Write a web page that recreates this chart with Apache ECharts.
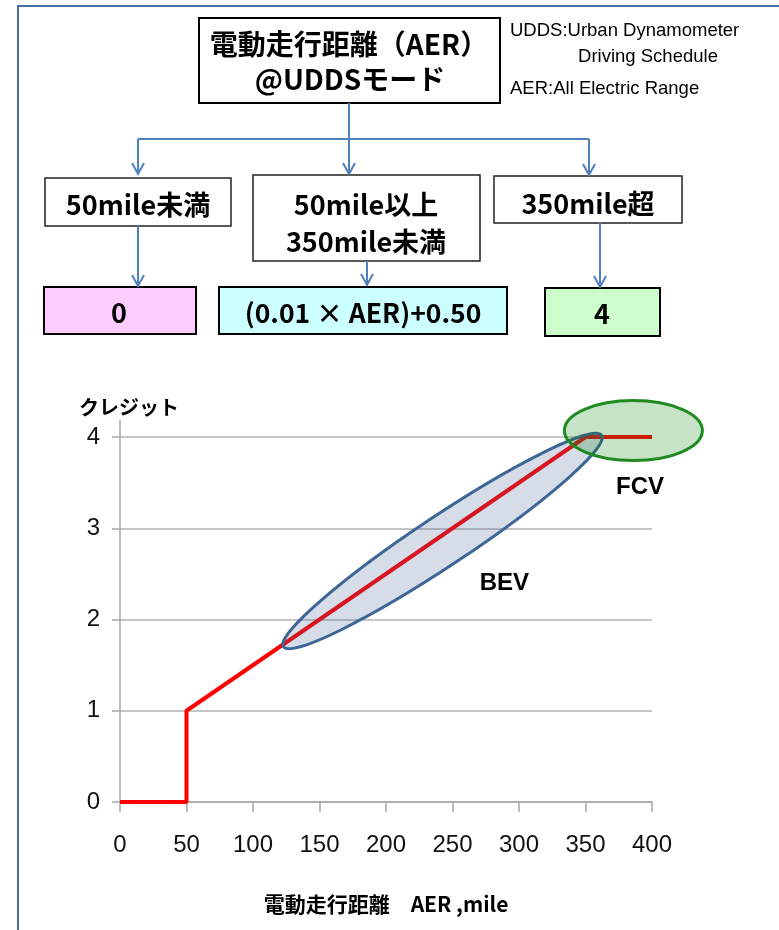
<!DOCTYPE html>
<html><head><meta charset="utf-8">
<script src="https://cdn.jsdelivr.net/npm/echarts@6/dist/echarts.min.js"></script>
<style>html,body{margin:0;padding:0;background:#fff}#c{width:779px;height:930px}</style>
</head><body><div id="c"></div>
<script>
// ---- data ----
const xTicks = [0, 50, 100, 150, 200, 250, 300, 350, 400];
const yTicks = [0, 1, 2, 3, 4];
const aer = [0, 50, 50, 350, 400];
const credit = [0, 0, 1, 4, 4];
const groupNames = ['BEV', 'FCV'];
const groupCenters = [[242.5, 2.86], [386, 4.07]];
const groupLabelPos = [[289, 2.4], [391, 3.45]];

const JP = '"Noto Sans CJK JP", sans-serif';
const LAT = '"Liberation Sans", sans-serif';
const BLUE = '#4f81bd';
const chart = echarts.init(document.getElementById('c'), null, { renderer: 'canvas' });

function rect(x, y, w, h, fill, stroke, lw) {
  return { type: 'rect', shape: { x: x, y: y, width: w, height: h }, style: { fill: fill, stroke: stroke, lineWidth: lw }, z: 10 };
}
function txt(x, y, t, size, weight, family, align) {
  return { type: 'text', x: x, y: y, z: 60, style: { text: t, fontSize: size, fontWeight: weight || 'bold', fontFamily: family || JP, fill: '#000', align: align || 'center', verticalAlign: 'middle' } };
}
function pline(pts, w) {
  return { type: 'polyline', shape: { points: pts }, style: { stroke: BLUE, lineWidth: w || 2, fill: null }, z: 11 };
}
function arrow(x, y1, y2) {
  return [pline([[x, y1], [x, y2]]), pline([[x - 6, y2 - 11], [x, y2], [x + 6, y2 - 11]])];
}

const diagram = [
  // frame
  { type: 'polyline', shape: { points: [[18, 930], [18, 6], [779, 6]] }, style: { stroke: '#4a6fa8', lineWidth: 2, fill: null }, z: 5 },
  rect(199, 18, 301, 85, '#fff', '#000', 2),
  txt(349, 44, '電動走行距離（AER）', 28, 'bold'),
  txt(350, 79, '@UDDSモード', 28, 'bold'),
  txt(510, 31, 'UDDS:Urban Dynamometer', 18.5, 'normal', LAT, 'left'),
  txt(648, 57, 'Driving Schedule', 18.5, 'normal', LAT, 'center'),
  txt(510, 89, 'AER:All Electric Range', 18.5, 'normal', LAT, 'left'),
  pline([[349, 103], [349, 139]]),
  pline([[138, 139], [589, 139]]),
  ...arrow(138, 139, 174),
  ...arrow(349, 139, 174),
  ...arrow(589, 139, 175),
  rect(45, 178, 186, 48, '#fff', '#222', 1.5),
  rect(253, 175, 227, 86, '#fff', '#222', 1.5),
  rect(494, 176, 188, 47, '#fff', '#222', 1.5),
  txt(138, 205, '50mile未満', 27),
  txt(366, 205, '50mile以上', 27),
  txt(366, 242, '350mile未満', 27),
  txt(588, 204, '350mile超', 27),
  ...arrow(138, 226, 286),
  ...arrow(367, 261, 285),
  ...arrow(600, 223, 287),
  rect(44, 287, 152, 47, '#ffccff', '#000', 2),
  rect(219, 287, 288, 47, '#ccffff', '#000', 2),
  rect(545, 288, 115, 48, '#ccffcc', '#000', 2),
  txt(119, 313, '0', 27),
  txt(363, 313, '(0.01 × AER)+0.50', 26.5),
  txt(602, 314, '4', 27)
];

const option = {
  animation: false,
  backgroundColor: '#fff',
  grid: { left: 120, top: 437, width: 532, height: 365, containLabel: false },
  xAxis: {
    type: 'value', min: 0, max: 400, interval: 50,
    name: '電動走行距離　AER ,mile', nameLocation: 'middle', nameGap: 92,
    nameTextStyle: { fontSize: 21, fontFamily: JP, color: '#000', fontWeight: 'bold' },
    axisLine: { show: true, lineStyle: { color: '#a6a6a6', width: 1.5 } },
    axisTick: { show: true, length: 10, lineStyle: { color: '#a6a6a6', width: 1.5 } },
    axisLabel: { fontSize: 24, color: '#111', margin: 31, fontFamily: LAT },
    splitLine: { show: false }
  },
  yAxis: {
    type: 'value', min: 0, max: 4, interval: 1,
    name: 'クレジット', nameLocation: 'end', nameGap: 20,
    nameTextStyle: { fontSize: 20, fontFamily: JP, color: '#000', fontWeight: 'bold', padding: [0, 0, 0, 18] },
    axisLine: { show: true, lineStyle: { color: '#a6a6a6', width: 1.5 } },
    axisTick: { show: true, length: 8, lineStyle: { color: '#a6a6a6', width: 1.5 } },
    axisLabel: { fontSize: 24, color: '#111', margin: 20, fontFamily: LAT },
    splitLine: { show: true, lineStyle: { color: '#b3b3b3', width: 1.5 } }
  },
  series: [{
    type: 'line', data: aer.map((v, i) => [v, credit[i]]),
    showSymbol: false, symbol: 'none',
    lineStyle: { color: '#ff0000', width: 4 }, z: 3
  }],
  graphic: diagram
};
chart.setOption(option);

// annotations placed from data coordinates
const c0 = chart.convertToPixel({ gridIndex: 0 }, groupCenters[0]);
const c1 = chart.convertToPixel({ gridIndex: 0 }, groupCenters[1]);
const l0 = chart.convertToPixel({ gridIndex: 0 }, groupLabelPos[0]);
const l1 = chart.convertToPixel({ gridIndex: 0 }, groupLabelPos[1]);
const top4 = chart.convertToPixel({ gridIndex: 0 }, [0, 4]);
const p1 = chart.convertToPixel({ gridIndex: 0 }, [50, 1]);
const p4 = chart.convertToPixel({ gridIndex: 0 }, [350, 4]);
const ang = Math.atan2(p1[1] - p4[1], p4[0] - p1[0]) - 0.015;
const ann = [
  { type: 'line', shape: { x1: top4[0], y1: top4[1] - 17, x2: top4[0], y2: top4[1] }, style: { stroke: '#a6a6a6', lineWidth: 1.5 }, z: 2 },
  { type: 'ellipse', x: c0[0], y: c0[1], rotation: ang, shape: { cx: 0, cy: 0, rx: 191, ry: 25 },
    style: { fill: 'rgba(68,100,150,0.22)', stroke: '#3d6596', lineWidth: 3 }, z: 50 },
  { type: 'ellipse', x: c1[0], y: c1[1], shape: { cx: 0, cy: 0, rx: 69, ry: 30 },
    style: { fill: 'rgba(0,128,0,0.22)', stroke: '#1f8a1f', lineWidth: 3 }, z: 51 },
  txt(l0[0], l0[1], groupNames[0], 24, 'bold', LAT),
  txt(l1[0], l1[1], groupNames[1], 24, 'bold', LAT)
];
chart.setOption({ graphic: diagram.concat(ann) });
</script></body></html>
